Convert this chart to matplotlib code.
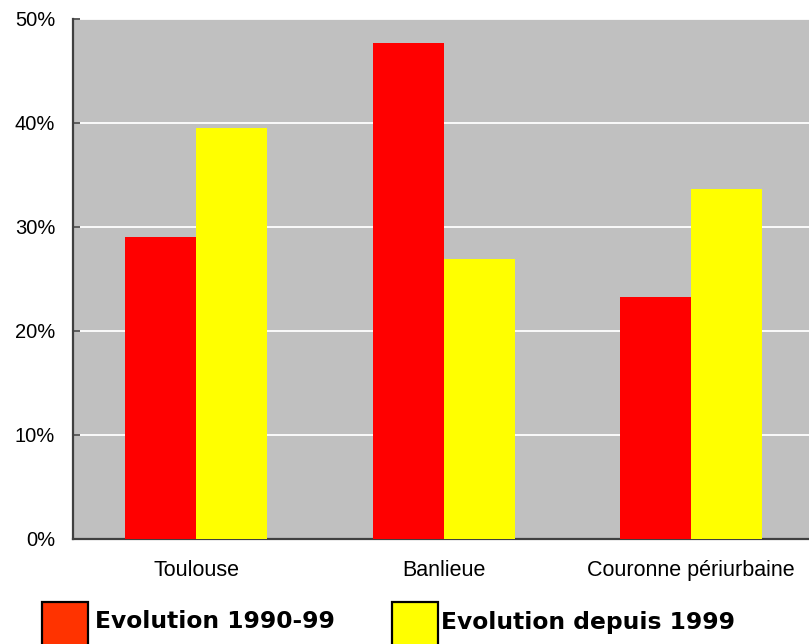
import matplotlib
matplotlib.use("Agg")
import matplotlib.pyplot as plt
import numpy as np
from matplotlib.patches import Rectangle
from matplotlib.ticker import FuncFormatter

categories = ["Toulouse", "Banlieue", "Couronne périurbaine"]
evol_1990_99 = [29.0, 47.7, 23.3]
evol_depuis_1999 = [39.5, 26.9, 33.7]
series_labels = ["Evolution 1990-99", "Evolution depuis 1999"]
series_colors = ["#ff0000", "#ffff00"]
legend_colors = ["#ff3300", "#ffff00"]
yticks = [0, 10, 20, 30, 40, 50]

plt.rcParams['font.family'] = ['Liberation Sans', 'DejaVu Sans']

W, H = 809, 644
fig = plt.figure(figsize=(W / 100, H / 100), dpi=100)
ax = fig.add_axes([72.5 / W, 1 - 539 / H, (815 - 72.5) / W, (539 - 19) / H])
ax.set_facecolor("#c0c0c0")

x = np.arange(len(categories))
w = 0.287
ax.bar(x - w / 2, evol_1990_99, width=w, color=series_colors[0], zorder=3)
ax.bar(x + w / 2, evol_depuis_1999, width=w, color=series_colors[1], zorder=3)

ax.set_xlim(-0.5, len(categories) - 0.5)
ax.set_ylim(0, 50)
ax.set_yticks(yticks)
ax.yaxis.set_major_formatter(FuncFormatter(lambda v, p: f"{int(v)}%"))
ax.grid(axis="y", color="white", linewidth=1.3, zorder=1)
ax.set_xticks(x)
ax.set_xticklabels(categories)
ax.tick_params(axis="x", length=0, pad=15, labelsize=15.5)
ax.tick_params(axis="y", direction="in", length=5, width=1.3, color="#505050",
               pad=12.5, labelsize=14.5)
for s in ["top", "right"]:
    ax.spines[s].set_visible(False)
for s in ["left", "bottom"]:
    ax.spines[s].set_color("#404040")
    ax.spines[s].set_linewidth(1.6)

# legend (drawn in figure pixel space)
box_x = [42, 392]
text_x = [95, 441]
for bx, tx, col, lab in zip(box_x, text_x, legend_colors, series_labels):
    fig.patches.append(Rectangle((bx, -10), 46, H - 602 + 10, transform=None,
                                 facecolor=col, edgecolor="black", linewidth=1.6,
                                 figure=fig))
    fig.text(tx / W, 1 - 622 / H, lab, ha="left", va="center",
             family=["DejaVu Sans"], weight="bold", fontsize=16.8)

fig.savefig("out.png", dpi=100)
